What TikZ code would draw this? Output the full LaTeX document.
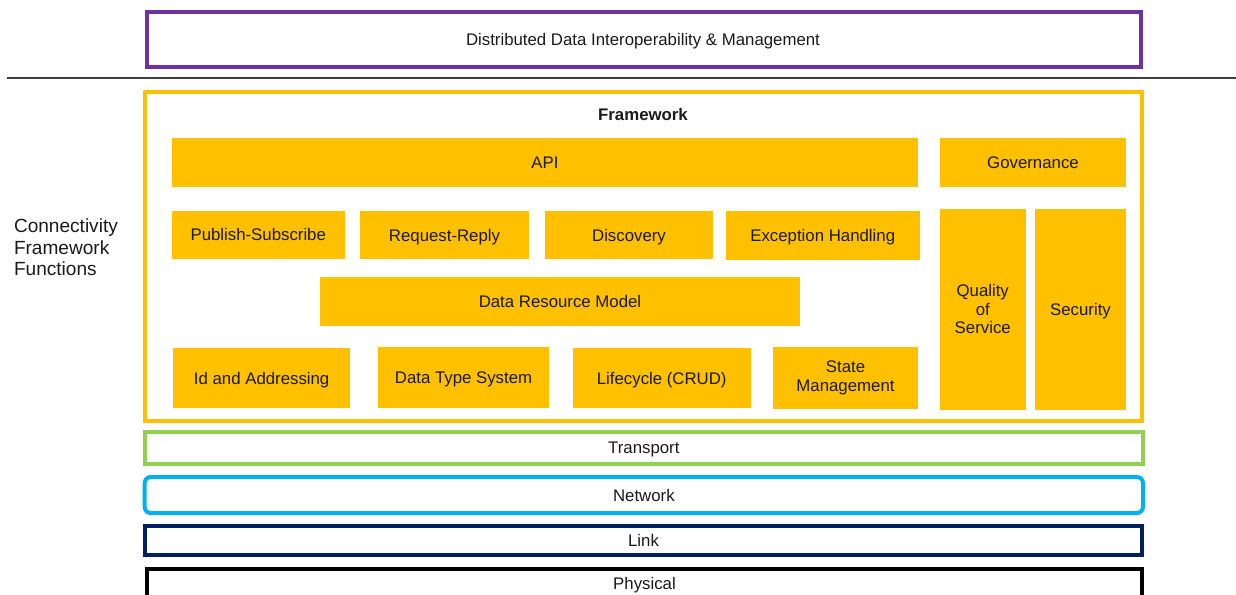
\documentclass[tikz,border=0pt]{standalone}
\usepackage{fontspec}
\setmainfont{Liberation Sans}
\definecolor{cpurple}{HTML}{7030A0}
\definecolor{cyellow}{HTML}{FFC000}
\definecolor{cgreen}{HTML}{92D050}
\definecolor{ccyan}{HTML}{00B0F0}
\definecolor{cnavy}{HTML}{002060}
\definecolor{ctext}{HTML}{1A1A1A}
\newcommand{\pxbox}[7][]{%
  \node[#1, minimum width={(#4-#2)*0.75pt}, minimum height={(#5-#3)*0.75pt}] (#6) at ({(#2+#4)/2},{(#3+#5)/2}) {#7};}
\tikzset{
  every node/.style={inner sep=0pt, outer sep=0pt, text=ctext, font=\fontsize{12.6}{14}\selectfont, text height=9pt, text depth=0pt},
  multi/.style={text height=, text depth=},
  ybox/.style={fill=cyellow, draw=none, align=center},
  layer/.style={draw=#1, line width=3pt, fill=none},
}
\begin{document}
\begin{tikzpicture}[x=0.75pt, y=-0.75pt]
\useasboundingbox (0,0) rectangle (1236,594);
% top layer
\pxbox[layer=cpurple]{146.5}{12}{1141}{67}{ddim}{}
\node (ddimt) at (643,39.5) {Distributed Data Interoperability \& Management};
% separator
\coordinate (sepl) at (7,77.7);
\coordinate (sepr) at (1236,77.7);
\draw[line width=1.2pt, color=black!75] (sepl) -- (sepr);
% framework frame
\pxbox[layer=cyellow]{144.7}{92}{1142}{420.5}{frame}{}
\node[font=\fontsize{12.6}{14}\selectfont\bfseries] (fwt) at (643,114.2) {Framework};
% left label
\node[multi, anchor=north west, align=left, font=\fontsize{14.3}{16.1}\selectfont] (cff) at (14,219) {Connectivity\\Framework\\Functions};
% inner boxes
\pxbox[ybox]{172}{138}{918}{186.5}{api}{API}
\pxbox[ybox]{940}{138}{1126}{186.5}{gov}{Governance}
\pxbox[ybox, multi]{940}{209}{1025.5}{409.5}{qos}{Quality\\of\\Service}
\pxbox[ybox]{1035}{209}{1126}{409.5}{sec}{Security}
\pxbox[ybox]{172}{211}{344.5}{258.5}{pubsub}{Publish-Subscribe}
\pxbox[ybox]{360}{211}{529}{259}{reqrep}{Request-Reply}
\pxbox[ybox]{545}{211}{713}{259}{disc}{Discovery}
\pxbox[ybox]{726}{211}{919.5}{259.5}{exc}{Exception Handling}
\pxbox[ybox]{320}{277}{800}{325.5}{drm}{Data Resource Model}
\pxbox[ybox]{173.3}{348.3}{350}{408.3}{idaddr}{Id and Addressing}
\pxbox[ybox]{377.7}{346.7}{549.3}{408.3}{dts}{Data Type System}
\pxbox[ybox]{573}{348}{750.5}{408.3}{life}{Lifecycle (CRUD)}
\pxbox[ybox, multi]{773}{347}{918}{409}{state}{State\\Management}
% lower layers
\pxbox[layer=cgreen]{144.7}{431.5}{1143}{463.7}{transport}{Transport}
\pxbox[layer=ccyan, rounded corners=4.5pt]{144.7}{477}{1143}{513}{network}{Network}
\pxbox[layer=cnavy]{145}{526}{1142}{555}{link}{Link}
\pxbox[layer=black]{147}{568.5}{1142}{597.5}{physical}{Physical}
\end{tikzpicture}
\end{document}
